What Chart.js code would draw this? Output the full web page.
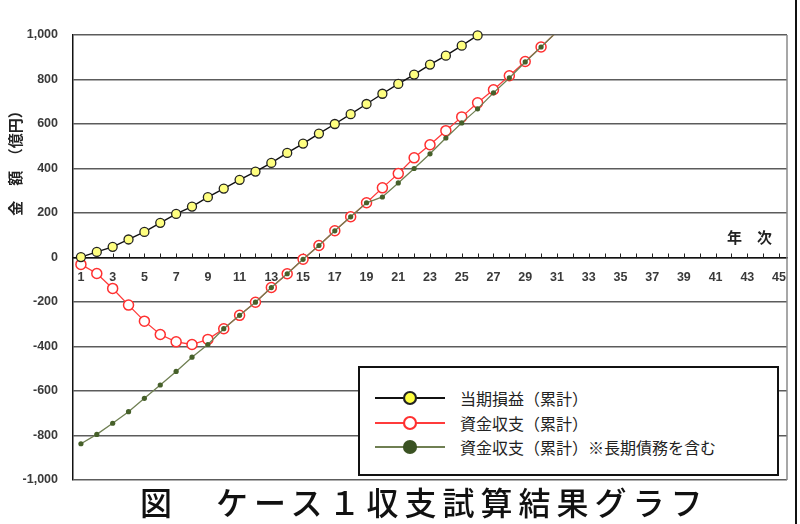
<!DOCTYPE html>
<html lang="ja">
<head>
<meta charset="utf-8">
<script src="https://cdn.jsdelivr.net/npm/chart.js@4.4.1/dist/chart.umd.min.js"></script>
<style>
	html, body { margin: 0; padding: 0; background: #fff; }
	#wrap { position: relative; width: 800px; height: 524px; overflow: hidden; }
	#myChart { position: absolute; left: 0; top: 0; }
	#legend {
		position: absolute; left: 358px; top: 366px; width: 421px; height: 110px;
		box-sizing: border-box; border: 2px solid #111; background: #fff;
		padding-top: 18px;
		font-family: 'Noto Sans CJK JP', sans-serif; font-size: 16px; color: #222;
	}
	#legend .row { display: flex; align-items: center; height: 24.5px; white-space: nowrap; }
	#legend svg { margin-left: 15px; margin-right: 15px; flex: none; }
	#caption {
		position: absolute; left: 140px; top: 481px; line-height: 40px;
		font-family: 'Noto Sans CJK JP', sans-serif; font-size: 32px; font-weight: 500;
		letter-spacing: 6px; color: #111; white-space: nowrap;
	}
	#edge { position: absolute; left: 795px; top: 0; width: 2px; height: 524px; background: #111; }
</style>
</head>
<body>
<div id="wrap">
	<canvas id="myChart" width="800" height="524"></canvas>
	<div id="legend"></div>
	<div id="caption">図　ケース１収支試算結果グラフ</div>
	<div id="edge"></div>
</div>
<script>
// years 1..45
const years = []
for (let i = 1; i <= 45; i++) years.push(i)

// values (億円)
const profit = [2, 25, 48, 81, 115, 156, 196, 229, 271, 310, 349, 386, 425, 470, 512, 557, 600, 644, 690, 736, 780, 822, 867, 907, 952, 998]
const funds = [-31, -72, -139, -214, -286, -346, -379, -391, -368, -320, -260, -201, -135, -73, -8, 54, 120, 183, 246, 313, 377, 448, 507, 570, 632, 695, 754, 817, 881, 946, 1015]
const fundsDebt = [-837, -795, -745, -693, -633, -573, -512, -448, -391, -320, -260, -201, -135, -73, -8, 54, 120, 183, 246, 272, 335, 400, 466, 537, 605, 668, 740, 807, 879, 946, 1015]

const seriesLabels = ['当期損益（累計）', '資金収支（累計）', '資金収支（累計）※長期債務を含む']
const yTicks = [1000, 800, 600, 400, 200, 0, -200, -400, -600, -800, -1000]

const tickFont = { family: "'Liberation Sans', Arial, sans-serif", size: 12.5, weight: 'bold' }

// hide markers that fall above the top of the axis
const radiusIn = r => c => (c.raw > 1000 ? 0 : r)

// frame, upward tick marks and the two axis captions
const extras = {
	id: 'extras',
	beforeDatasetsDraw(chart) {
		const { ctx, chartArea: a, scales: { x, y } } = chart
		const zeroY = y.getPixelForValue(0)
		ctx.save()
		ctx.strokeStyle = '#8a8a8a'
		ctx.lineWidth = 1.5
		ctx.beginPath()
		ctx.moveTo(a.right, a.top)
		ctx.lineTo(a.right, a.bottom)
		ctx.stroke()
		ctx.strokeStyle = '#222'
		ctx.lineWidth = 1
		x.ticks.forEach((t, i) => {
			const px = Math.round(x.getPixelForTick(i)) + 0.5
			ctx.beginPath()
			ctx.moveTo(px, zeroY)
			ctx.lineTo(px, zeroY - 4)
			ctx.stroke()
		})
		ctx.restore()
	},
	afterDraw(chart) {
		const { ctx, chartArea: a, scales: { y } } = chart
		const zeroY = y.getPixelForValue(0)
		ctx.save()
		ctx.fillStyle = '#222'
		ctx.font = "bold 15px 'Noto Sans CJK JP', sans-serif"
		ctx.textBaseline = 'middle'
		ctx.textAlign = 'right'
		ctx.fillText('年　次', a.right - 15, zeroY - 20)
		ctx.translate(a.left - 58, (a.top + a.bottom) / 2 - 98)
		ctx.rotate(-Math.PI / 2)
		ctx.textAlign = 'center'
		ctx.fillText('金　額　（億円）', 0, 0)
		ctx.restore()
	}
}

const chart = document.querySelector('#myChart').getContext('2d')

const myChart = new Chart(chart, {
	type: 'line',
	data: {
		labels: years,
		datasets: [
			{
				label: seriesLabels[0],
				data: profit,
				borderColor: '#111',
				borderWidth: 1.4,
				pointBackgroundColor: '#ffff80',
				pointBorderColor: '#222',
				pointBorderWidth: 1.3,
				pointRadius: 4.5,
				legendFill: '#ffff40',
				clip: 8,
				order: 0
			},
			{
				label: seriesLabels[1],
				data: funds,
				borderColor: '#ff3b3b',
				borderWidth: 1.3,
				pointBackgroundColor: '#ffffff',
				pointBorderColor: '#ff3030',
				pointBorderWidth: 1.5,
				pointRadius: radiusIn(5),
				legendFill: '#ffffff',
				order: 2
			},
			{
				label: seriesLabels[2],
				data: fundsDebt,
				borderColor: '#6f7f52',
				borderWidth: 1.3,
				pointBackgroundColor: '#46602a',
				pointBorderColor: '#46602a',
				pointBorderWidth: 0,
				pointRadius: radiusIn(2.6),
				legendFill: '#3b5323',
				order: 1
			}
		]
	},
	options: {
		responsive: false,
		animation: false,
		layout: { padding: { top: 35, right: 13, bottom: 44, left: 0 } },
		plugins: {
			legend: { display: false },
			tooltip: { enabled: false }
		},
		scales: {
			x: {
				type: 'category',
				position: { y: 0 },
				offset: true,
				grid: { display: false },
				border: { display: true, color: '#111', width: 1.5 },
				ticks: {
					autoSkip: false,
					maxRotation: 0,
					padding: 5,
					color: '#3a3a3a',
					font: tickFont,
					callback: (v, i) => (years[i] % 2 ? String(years[i]) : '')
				}
			},
			y: {
				min: -1000,
				max: 1000,
				afterBuildTicks: s => { s.ticks = yTicks.map(v => ({ value: v })) },
				afterFit: s => { s.width = 73 },
				grid: { color: '#5c5c5c', lineWidth: 1.4, drawTicks: false },
				border: { color: '#111', width: 1.5 },
				ticks: {
					padding: 15,
					color: '#3a3a3a',
					font: tickFont,
					callback: v => v.toLocaleString('en-US')
				}
			}
		}
	},
	plugins: [extras]
})

// legend box built from the datasets
const legend = document.querySelector('#legend')
myChart.data.datasets.forEach(ds => {
	const row = document.createElement('div')
	row.className = 'row'
	row.innerHTML =
		'<svg width="70" height="16" viewBox="0 0 70 16">' +
		'<line x1="0" y1="8" x2="70" y2="8" stroke="' + ds.borderColor + '" stroke-width="2.2"/>' +
		'<circle cx="35" cy="8" r="6" fill="' + ds.legendFill + '" stroke="' +
		(ds.label === seriesLabels[2] ? ds.legendFill : ds.pointBorderColor) + '" stroke-width="2.2"/>' +
		'</svg><span>' + ds.label + '</span>'
	legend.appendChild(row)
})
</script>
</body>
</html>
